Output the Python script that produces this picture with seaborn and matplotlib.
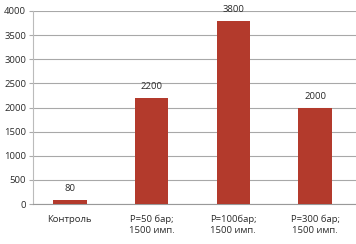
import pandas as pd
import matplotlib.pyplot as plt
import seaborn as sns

# Data
categories = ["Контроль", "P=50 бар;\n1500 имп.", "P=100бар;\n1500 имп.", "P=300 бар;\n1500 имп."]
values = [80, 2200, 3800, 2000]

df = pd.DataFrame({"cat": categories, "value": values})

sns.set_style("white")
plt.rcParams["font.family"] = ["Open Sans", "DejaVu Sans"]

fig = plt.figure(figsize=(3.56, 2.44), dpi=100)
ax = fig.add_axes([33 / 356, 1 - 204 / 244, 1 - 33 / 356, (204 - 11) / 244])

sns.barplot(data=df, x="cat", y="value", color="#b33a2c", saturation=1, width=0.41,
            linewidth=0, ax=ax, zorder=3)

for c in ax.containers:
    ax.bar_label(c, labels=[str(v) for v in values], padding=5, fontsize=6.8, color="#2a2a2a")

ax.set_ylim(0, 4000)
ax.set_yticks(range(0, 4001, 500))
ax.set_xlim(-0.45, 3.5)
ax.yaxis.grid(True, color="#a8a8a8", linewidth=0.8, zorder=0)
ax.set_xlabel("")
ax.set_ylabel("")

for side in ["top", "right"]:
    ax.spines[side].set_visible(False)
ax.spines["left"].set_color("#bbbbbb")
ax.spines["bottom"].set_color("#999999")

ax.tick_params(axis="y", labelsize=6.8, colors="#2a2a2a", length=3, color="#aaaaaa", pad=2, left=True)
ax.tick_params(axis="x", labelsize=6.8, colors="#2a2a2a", length=0, pad=8)

fig.savefig("out.png", dpi=100)
